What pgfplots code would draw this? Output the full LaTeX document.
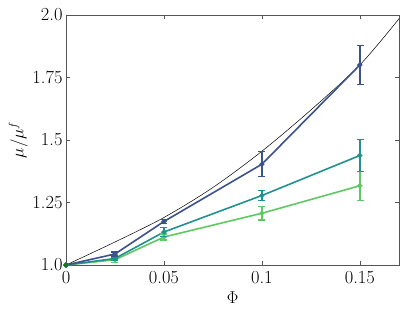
\documentclass[border=0pt]{standalone}
\usepackage{pgfplots}
\pgfplotsset{compat=1.18}

\definecolor{vblue}{HTML}{3B528B}
\definecolor{vteal}{HTML}{21918C}
\definecolor{vgreen}{HTML}{5EC962}
\definecolor{dgreen}{HTML}{0A7F14}
\definecolor{frame}{HTML}{555555}

\pgfplotsset{
    series/.style={color=#1, line width=1.6bp, mark=*, mark size=1.7bp,
        mark options={solid, fill=#1}},
    % error bars: vertical segments (lo, hi) split by nan, caps as marks
    ebar/.style={color=#1, line width=1.7bp, mark=-, mark size=3.5bp,
        mark options={solid, line width=1.4bp}, unbounded coords=jump,
        forget plot},
}

\begin{document}
\begin{tikzpicture}
\begin{axis}[
    name=ax,
    scale only axis,
    width=333bp, height=250bp,
    xmin=0, xmax=0.17,
    ymin=1, ymax=2,
    xtick={0,0.05,0.1,0.15},
    xticklabels={0,0.05,0.1,0.15},
    ytick={1,1.25,1.5,1.75,2},
    yticklabels={1.0,1.25,1.5,1.75,2.0},
    tick align=inside,
    major tick length=4bp,
    axis line style={frame, line width=0.8bp},
    tick style={frame, line width=0.6bp},
    font=\fontsize{18.5}{22}\selectfont,
    xticklabel style={yshift=-3bp},
    xlabel={$\Phi$},
    ylabel={$\mu/\mu^f$},
    xlabel style={yshift=-1bp},
    ylabel style={yshift=-2bp},
    clip=false,
]
    % reference curve
    \addplot[black, line width=0.5bp, smooth] coordinates {
        (0,1) (0.025,1.092) (0.05,1.19) (0.075,1.31) (0.1,1.455)
        (0.125,1.62) (0.15,1.80) (0.17,1.985)
    };

    % green
    \addplot[ebar=vgreen] coordinates {
        (0.025,1.011) (0.025,1.031) (nan,nan)
        (0.05,1.100) (0.05,1.124) (nan,nan)
        (0.1,1.180) (0.1,1.234) (nan,nan)
        (0.1502,1.259) (0.1502,1.375)
    };
    \addplot[series=vgreen] coordinates {
        (0,1) (0.025,1.021) (0.05,1.112) (0.1,1.207) (0.15,1.317)
    };

    % teal
    \addplot[ebar=vteal] coordinates {
        (0.025,1.020) (0.025,1.032) (nan,nan)
        (0.05,1.114) (0.05,1.150) (nan,nan)
        (0.1,1.258) (0.1,1.298) (nan,nan)
        (0.1502,1.373) (0.1502,1.503)
    };
    \addplot[series=vteal] coordinates {
        (0,1) (0.025,1.026) (0.05,1.132) (0.1,1.278) (0.15,1.438)
    };

    % blue
    \addplot[ebar=vblue] coordinates {
        (0.025,1.036) (0.025,1.052) (nan,nan)
        (0.05,1.167) (0.05,1.181) (nan,nan)
        (0.1,1.353) (0.1,1.453) (nan,nan)
        (0.1502,1.723) (0.1502,1.877)
    };
    \addplot[series=vblue] coordinates {
        (0,1) (0.025,1.044) (0.05,1.174) (0.1,1.403) (0.15,1.800)
    };

    \addplot[only marks, mark=*, mark size=2bp, dgreen, forget plot]
        coordinates {(0,1)};
\end{axis}
\path ([xshift=-66bp,yshift=-47bp]ax.south west)
    rectangle ([xshift=16bp,yshift=15bp]ax.north east);
\end{tikzpicture}
\end{document}
